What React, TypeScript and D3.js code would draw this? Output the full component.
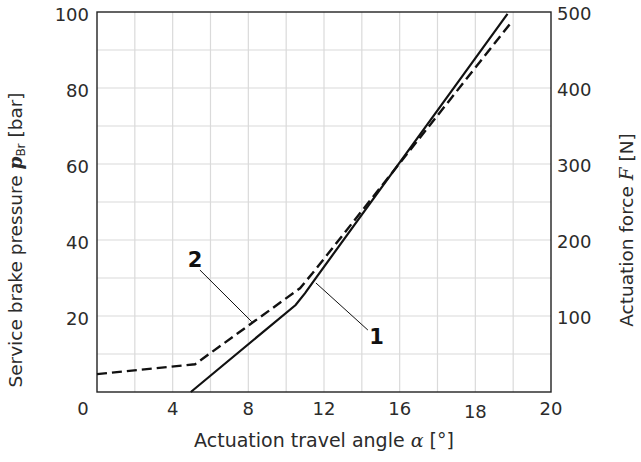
import * as d3 from "d3";
import React, { useEffect, useRef } from "react";

// x is in grid units of the original sheet (gridline every 2), labels are what the sheet prints
const xTickValues = [0, 4, 8, 12, 16, 20, 24];
const xTickLabels = ["0", "4", "8", "12", "16", "18", "20"];
const leftTicks = [20, 40, 60, 80, 100];
const rightTicks = [100, 200, 300, 400, 500];

// curve 1: service brake pressure (solid)
const curve1X = [4.96, 10.5, 11.0, 11.5, 21.7];
const curve1Y = [0, 22.9, 26, 29.5, 99.5];
// curve 2: actuation force (dashed), read on the left scale
const curve2X = [0, 5.18, 10.73, 11.1, 11.4, 21.92];
const curve2Y = [4.7, 7.3, 27.3, 29.5, 31.3, 97.4];

const W = 641;
const H = 462;
const margin = { top: 12, right: 90, bottom: 70, left: 97 };
const font = "'DejaVu Sans', sans-serif";
const ink = "#2b2b2b";

function drawChart(el: SVGSVGElement) {
  const svg = d3.select(el);
  svg.selectAll("*").remove();

  const x = d3.scaleLinear().domain([0, 24]).range([margin.left, W - margin.right]);
  const y = d3.scaleLinear().domain([0, 100]).range([H - margin.bottom, margin.top]);
  const yR = d3.scaleLinear().domain([0, 500]).range([H - margin.bottom, margin.top]);

  // grid
  const grid = svg.append("g").attr("stroke", "#dadada").attr("stroke-width", 1.2);
  grid
    .selectAll("line.v")
    .data(d3.range(2, 24, 2))
    .join("line")
    .attr("x1", d => x(d))
    .attr("x2", d => x(d))
    .attr("y1", y(0))
    .attr("y2", y(100));
  grid
    .selectAll("line.h")
    .data(d3.range(10, 100, 10))
    .join("line")
    .attr("x1", x(0))
    .attr("x2", x(24))
    .attr("y1", d => y(d))
    .attr("y2", d => y(d));

  // frame
  svg
    .append("rect")
    .attr("x", x(0))
    .attr("y", y(100))
    .attr("width", x(24) - x(0))
    .attr("height", y(0) - y(100))
    .attr("fill", "none")
    .attr("stroke", "#222")
    .attr("stroke-width", 1.4);

  const line = d3
    .line<[number, number]>()
    .x(d => x(d[0]))
    .y(d => y(d[1]));

  svg
    .append("path")
    .datum(curve2X.map((v, i) => [v, curve2Y[i]] as [number, number]))
    .attr("d", line)
    .attr("fill", "none")
    .attr("stroke", "#111")
    .attr("stroke-width", 2.4)
    .attr("stroke-dasharray", "10,5");

  svg
    .append("path")
    .datum(curve1X.map((v, i) => [v, curve1Y[i]] as [number, number]))
    .attr("d", line)
    .attr("fill", "none")
    .attr("stroke", "#111")
    .attr("stroke-width", 2.2);

  // leader lines + curve numbers
  const leaders = [
    { label: "2", tx: 5.18, ty: 34.7, from: [5.44, 32.1], to: [8.18, 18.5] },
    { label: "1", tx: 14.78, ty: 14.6, from: [14.32, 16.3], to: [11.57, 28.7] },
  ];
  leaders.forEach(l => {
    svg
      .append("line")
      .attr("x1", x(l.from[0]))
      .attr("y1", y(l.from[1]))
      .attr("x2", x(l.to[0]))
      .attr("y2", y(l.to[1]))
      .attr("stroke", "#111")
      .attr("stroke-width", 1);
    svg
      .append("text")
      .attr("x", x(l.tx))
      .attr("y", y(l.ty))
      .attr("text-anchor", "middle")
      .attr("dominant-baseline", "central")
      .attr("font-family", font)
      .attr("font-weight", "bold")
      .attr("font-size", 21)
      .attr("fill", "#111")
      .text(l.label);
  });

  // x tick labels
  svg
    .append("g")
    .selectAll("text")
    .data(xTickValues)
    .join("text")
    .attr("x", (d, i) => x(d) + (i === 0 ? -14 : 0))
    .attr("y", (d, i) => (i === 5 ? 418 : 415))
    .attr("text-anchor", "middle")
    .attr("font-family", font)
    .attr("font-size", 18)
    .attr("fill", ink)
    .text((d, i) => xTickLabels[i]);

  // left ticks
  svg
    .append("g")
    .selectAll("text")
    .data(leftTicks)
    .join("text")
    .attr("x", x(0) - 8)
    .attr("y", d => y(d) + 4)
    .attr("text-anchor", "end")
    .attr("dominant-baseline", "middle")
    .attr("font-family", font)
    .attr("font-size", 18)
    .attr("fill", ink)
    .text(d => d);

  // right ticks
  svg
    .append("g")
    .selectAll("text")
    .data(rightTicks)
    .join("text")
    .attr("x", x(24) + 6)
    .attr("y", d => yR(d) + 3)
    .attr("text-anchor", "start")
    .attr("dominant-baseline", "middle")
    .attr("font-family", font)
    .attr("font-size", 18)
    .attr("fill", ink)
    .text(d => d);

  // x title
  const xt = svg
    .append("text")
    .attr("x", (x(0) + x(24)) / 2)
    .attr("y", 447)
    .attr("text-anchor", "middle")
    .attr("font-family", font)
    .attr("font-size", 19)
    .attr("fill", ink);
  xt.append("tspan").text("Actuation travel angle ");
  xt.append("tspan").attr("font-family", "'DejaVu Serif', serif").attr("font-style", "italic").text("α");
  xt.append("tspan").text(" [°]");

  // left title
  const lt = svg
    .append("text")
    .attr("transform", `translate(22, 240) rotate(-90)`)
    .attr("text-anchor", "middle")
    .attr("font-family", font)
    .attr("font-size", 18.5)
    .attr("fill", ink);
  lt.append("tspan").text("Service brake pressure ");
  lt.append("tspan")
    .attr("font-family", "'DejaVu Serif', serif")
    .attr("font-style", "italic")
    .attr("font-weight", "bold")
    .text("p");
  lt.append("tspan").attr("font-size", 12).attr("dy", 3).text("Br");
  lt.append("tspan").attr("dy", -3).text(" [bar]");

  // right title
  const rt = svg
    .append("text")
    .attr("transform", `translate(633, 230) rotate(-90)`)
    .attr("text-anchor", "middle")
    .attr("font-family", font)
    .attr("font-size", 18.5)
    .attr("fill", ink);
  rt.append("tspan").text("Actuation force ");
  rt.append("tspan").attr("font-family", "'DejaVu Serif', serif").attr("font-style", "italic").text("F");
  rt.append("tspan").text(" [N]");
}

export default function App() {
  const ref = useRef<SVGSVGElement>(null);

  useEffect(() => {
    document.body.style.margin = "0";
    if (ref.current) drawChart(ref.current);
  }, []);

  return <svg ref={ref} width={W} height={H} style={{ display: "block", background: "#fff" }} />;
}
